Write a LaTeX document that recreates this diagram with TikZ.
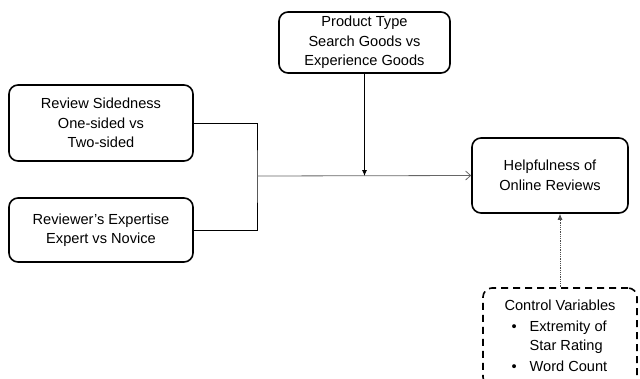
\documentclass[tikz,border=0pt]{standalone}
\usepackage{fontspec}
\setmainfont{Liberation Sans}
\usetikzlibrary{arrows.meta}

\begin{document}
\begin{tikzpicture}[x=1pt,y=-1pt,
  box/.style={draw, line width=1.6pt, rounded corners=9pt, align=center, inner sep=0pt,
    font=\fontsize{14.6}{19.5}\selectfont},
  link/.style={line width=0.8pt}]
\useasboundingbox (0,0) rectangle (640,378);
\clip (0,0) rectangle (640,378);
% boxes
\node[box, minimum width=171, minimum height=61] (type) at (364.5,42.5) {Product Type\\Search Goods vs\\Experience Goods};
\node[box, minimum width=184, minimum height=76] (side) at (101,123) {Review Sidedness\\One-sided vs\\Two-sided};
\node[box, minimum width=184, minimum height=64] (exp) at (101,230) {Reviewer's Expertise\\Expert vs Novice};
\node[box, minimum width=156, minimum height=75] (help) at (550,175.5) {Helpfulness of\\Online Reviews};
\node[box, dash pattern=on 7pt off 5pt, minimum width=154, minimum height=98] (ctrl) at (560,337) {%
  \begin{tabular}{@{\hspace{7pt}}c@{\hspace{13pt}}l@{}}
  \multicolumn{2}{@{}c@{}}{Control Variables}\\[1pt]
  \textbullet & Extremity of\\
   & Star Rating\\[1pt]
  \textbullet & Word Count
  \end{tabular}};
% links
\coordinate (j) at (257,176);
\coordinate (m) at (type.south |- j);
\draw[link] (side.east) -| (j) |- (exp.east);
\draw[link, gray!80!black, -{Straight Barb[length=5pt,width=9pt]}] (j) -- (help.west);
\draw[link, -{Latex[length=6pt,width=5pt]}] (type.south) -- (m);
\draw[link, gray!60!black, densely dotted, -{Latex[length=6pt,width=5pt]}] (ctrl.north) -- (ctrl.north |- help.south);
\end{tikzpicture}
\end{document}
